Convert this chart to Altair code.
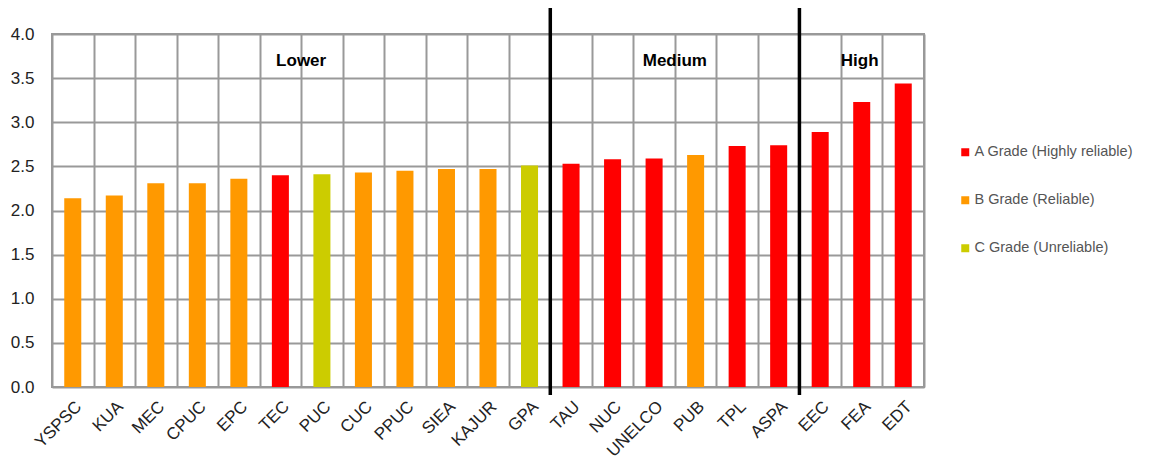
import altair as alt
import pandas as pd

categories = ["YSPSC", "KUA", "MEC", "CPUC", "EPC", "TEC", "PUC", "CUC", "PPUC", "SIEA", "KAJUR",
              "GPA", "TAU", "NUC", "UNELCO", "PUB", "TPL", "ASPA", "EEC", "FEA", "EDT"]
values = [2.14, 2.17, 2.31, 2.31, 2.36, 2.40, 2.41, 2.43, 2.45, 2.47, 2.47,
          2.51, 2.53, 2.58, 2.59, 2.63, 2.73, 2.74, 2.89, 3.23, 3.44]
grades = ["B", "B", "B", "B", "B", "A", "C", "B", "B", "B", "B",
          "C", "A", "A", "A", "B", "A", "A", "A", "A", "A"]
grade_codes = ["A", "B", "C"]
grade_names = ["A Grade (Highly reliable)", "B Grade (Reliable)", "C Grade (Unreliable)"]
grade_colors = ["#FF0000", "#FF9900", "#CCCC00"]
section_names = ["Lower", "Medium", "High"]
section_anchor = ["PUC", "PUB", "FEA"]
section_band = [0.0, 0.0, 0.45]
separator_at = ["TAU", "EEC"]
y_ticks = [0, 0.5, 1.0, 1.5, 2.0, 2.5, 3.0, 3.5, 4.0]

name_of = dict(zip(grade_codes, grade_names))
df = pd.DataFrame({"cat": categories, "value": values,
                   "grade": [name_of[g] for g in grades]})
sep_df = pd.DataFrame({"cat": separator_at})

FONT = "Liberation Sans"
xscale = alt.Scale(domain=categories, paddingInner=0, paddingOuter=0)
xaxis = alt.Axis(title=None, labelAngle=-45, labelAlign="right", labelBaseline="top",
                 labelPadding=11, grid=True, tickBand="extent", labelOffset=0)

bars = alt.Chart(df).mark_bar(width=alt.RelativeBandSize(0.41)).encode(
    x=alt.X("cat:N", scale=xscale, axis=xaxis),
    y=alt.Y("value:Q", scale=alt.Scale(domain=[0, 4]),
            axis=alt.Axis(values=y_ticks, format=".1f", title=None, labelPadding=18, grid=True)),
    color=alt.Color("grade:N",
                    scale=alt.Scale(domain=grade_names, range=grade_colors),
                    legend=alt.Legend(title=None, orient="none", legendX=906, legendY=111,
                                      symbolType="square", symbolSize=64, symbolStrokeWidth=0,
                                      labelFontSize=14.5, labelColor="#555555", labelFont=FONT,
                                      rowPadding=33, padding=0, labelOffset=2)),
)

rules = alt.Chart(sep_df).mark_rule(color="black", strokeWidth=3.5, clip=False).encode(
    x=alt.X("cat:N", scale=xscale, bandPosition=0, axis=xaxis),
    y=alt.value(-29),
    y2=alt.value(361),
)

layers = [bars, rules]
for name, anchor, bp in zip(section_names, section_anchor, section_band):
    tdf = pd.DataFrame({"cat": [anchor], "label": [name]})
    layers.append(
        alt.Chart(tdf).mark_text(fontWeight="bold", fontSize=17, font=FONT, color="black",
                                 baseline="middle", align="center").encode(
            x=alt.X("cat:N", scale=xscale, bandPosition=bp, axis=xaxis),
            y=alt.value(27),
            text="label:N",
        )
    )

chart = alt.layer(*layers).properties(
    width=872, height=353,
    autosize=alt.AutoSizeParams(type="none"),
    padding={"left": 44, "top": 26, "right": 218, "bottom": 75},
).configure_view(
    stroke="#999999", strokeWidth=2
).configure_axis(
    gridColor="#999999", gridWidth=2, gridOpacity=1, domain=False, ticks=False,
    labelFont=FONT, labelFontSize=17, labelColor="#222222"
)

chart.save("out.html", embed_options={"renderer": "svg", "actions": False})
